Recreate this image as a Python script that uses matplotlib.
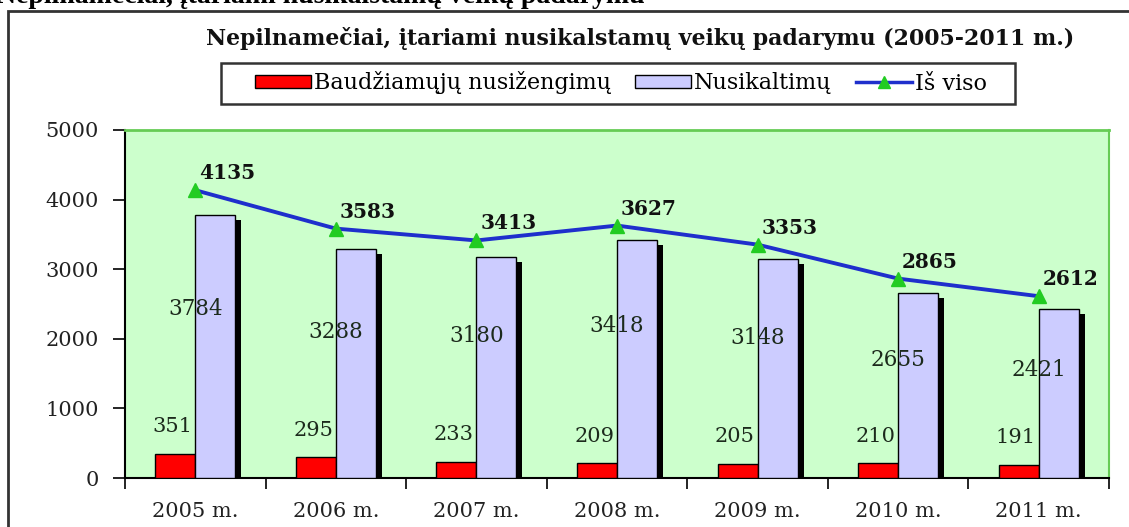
import numpy as np
import matplotlib
matplotlib.use("Agg")
import matplotlib.pyplot as plt
from matplotlib.patches import Rectangle, Patch
from matplotlib.lines import Line2D

# data
years = ["2005 m.", "2006 m.", "2007 m.", "2008 m.", "2009 m.", "2010 m.", "2011 m."]
nusizengimai = [351, 295, 233, 209, 205, 210, 191]
nusikaltimai = [3784, 3288, 3180, 3418, 3148, 2655, 2421]
is_viso = [4135, 3583, 3413, 3627, 3353, 2865, 2612]

RED = "#ff0000"
LAV = "#ccccff"
BG = "#ccffcc"
LINE = "#1f2fcc"
MARK = "#22cc22"

W, H = 1129, 527
fig = plt.figure(figsize=(W / 100, H / 100), dpi=100)

def fx(px):
    return px / W

def fy(py):
    return 1 - py / H

# heading of the page above the chart frame, cut at the top edge as in the source
fig.text(fx(-4), fy(3), "Nepilnamečiai, įtariami nusikalstamų veikų padarymu",
         family="Liberation Serif", weight="bold", fontsize=20, ha="left", va="baseline")

# outer chart frame
fig.patches.append(Rectangle((fx(8), fy(560)), fx(1160), fy(11) - fy(560), transform=fig.transFigure,
                             fill=False, edgecolor="#333333", linewidth=2, zorder=0))

ax = fig.add_axes([fx(125), fy(478), fx(1109) - fx(125), fy(130) - fy(478)])
ax.set_facecolor(BG)

x = np.arange(len(years))
w = 0.285
ax.bar(x - w / 2, nusizengimai, width=w, color=RED, edgecolor="black", linewidth=1, zorder=3)
# shadow behind lavender bars
sdx = 6 / 140.6
sdy = 5 / 0.0696
ax.bar(x + w / 2 + sdx, np.array(nusikaltimai) - sdy, width=w, color="black", linewidth=0, zorder=2)
ax.bar(x + w / 2, nusikaltimai, width=w, color=LAV, edgecolor="black", linewidth=1, zorder=3)
ax.plot(x, is_viso, color=LINE, linewidth=2.8, marker="^", markersize=10,
        markerfacecolor=MARK, markeredgecolor=MARK, zorder=4)

for i in range(len(years)):
    ax.text(x[i] - w / 2 - 0.02, nusizengimai[i] + 390, str(nusizengimai[i]), family="DejaVu Serif",
            fontsize=15, ha="center", va="center", color="#1c2a1c", zorder=5)
    ax.text(x[i], nusikaltimai[i] * 0.64, str(nusikaltimai[i]), family="DejaVu Serif",
            fontsize=15.5, ha="center", va="center", color="#1c2a1c", zorder=5)
    ax.annotate(str(is_viso[i]), (x[i], is_viso[i]), xytext=(4, 7), textcoords="offset pixels",
                family="DejaVu Serif", weight="bold", fontsize=14.5, ha="left", va="bottom",
                color="#111111", zorder=5)

ax.set_xlim(-0.5, len(years) - 0.5)
ax.set_ylim(0, 5000)
ax.set_yticks(range(0, 5001, 1000))
ax.set_xticks(x)
ax.set_xticklabels(years)
ax.set_xticks(np.arange(-0.5, len(years), 1), minor=True)
ax.tick_params(axis="x", which="major", length=0, pad=17)
ax.tick_params(axis="x", which="minor", length=8, width=1.2, direction="out")
ax.tick_params(axis="y", length=9, width=1.2, direction="out", pad=10)
for lab in ax.get_xticklabels() + ax.get_yticklabels():
    lab.set_family("DejaVu Serif")
    lab.set_fontsize(15)
    lab.set_color("#222222")

ax.spines["top"].set_color("#66cc55")
ax.spines["right"].set_color("#66cc55")
ax.spines["top"].set_linewidth(2)
ax.spines["right"].set_linewidth(1.5)
ax.spines["left"].set_linewidth(1.5)
ax.spines["bottom"].set_linewidth(1.5)

fig.text(fx(640), fy(38), "Nepilnamečiai, įtariami nusikalstamų veikų padarymu (2005-2011 m.)",
         family="DejaVu Serif", weight="bold", fontsize=15.8, ha="center", va="center", color="#111111")

# legend box
fig.patches.append(Rectangle((fx(221), fy(104)), fx(1015) - fx(221), fy(63) - fy(104),
                             transform=fig.transFigure, fill=False, edgecolor="#333333", linewidth=1.8))
handles = [Patch(facecolor=RED, edgecolor="black", label="Baudžiamųjų nusižengimų"),
           Patch(facecolor=LAV, edgecolor="black", label="Nusikaltimų"),
           Line2D([], [], color=LINE, linewidth=2.5, marker="^", markersize=9,
                  markerfacecolor=MARK, markeredgecolor=MARK, label="Iš viso")]
fig.legend(handles=handles, loc="center", bbox_to_anchor=(fx(621), fy(83)), ncol=3, frameon=False,
           prop={"family": "DejaVu Serif", "size": 16}, handlelength=2.5, handleheight=0.55,
           handletextpad=0.15, columnspacing=1.1)

fig.savefig("out.png", dpi=100)
